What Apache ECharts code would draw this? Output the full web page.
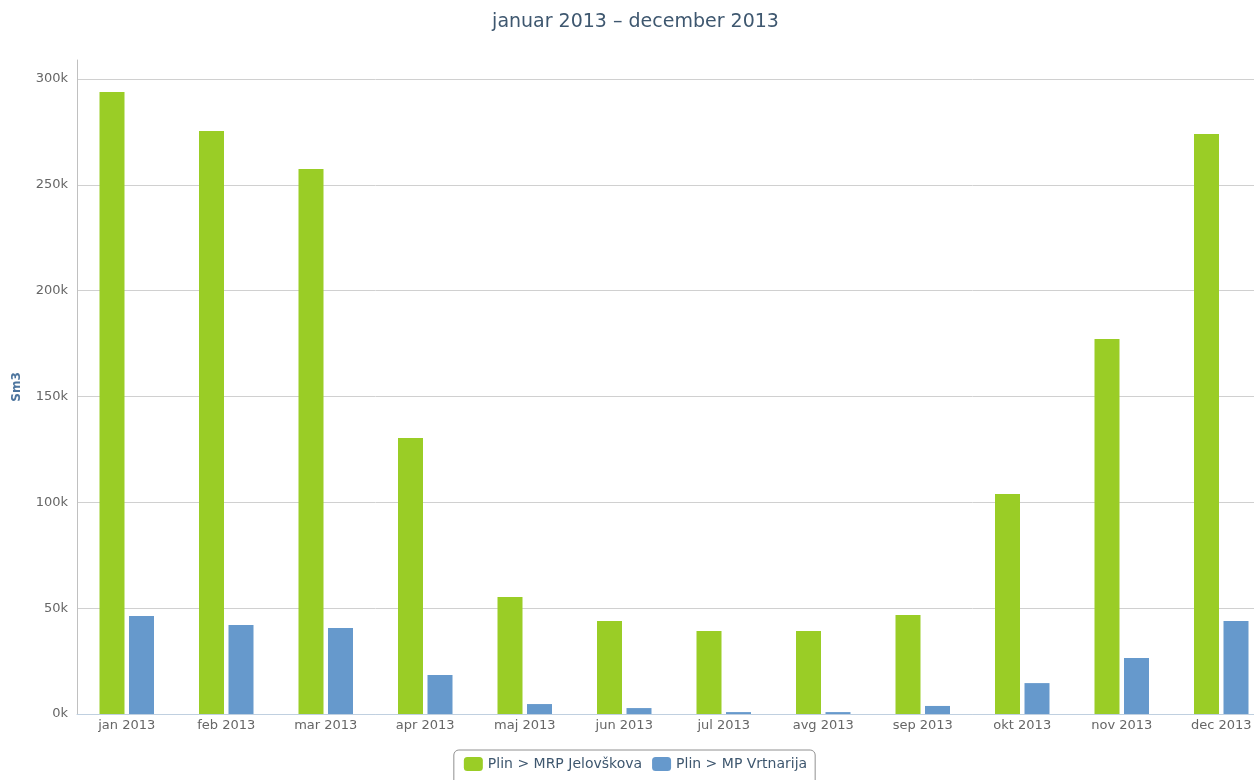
<!DOCTYPE html>
<html>
<head>
<meta charset="utf-8">
<script src="https://cdn.jsdelivr.net/npm/echarts@6/dist/echarts.min.js"></script>
<style>
  html, body { margin: 0; padding: 0; background: #fff; overflow: hidden; }
  /* the original chart was a bit wider than the shot and got cut on the right */
  #chart { width: 1271px; height: 780px; }
</style>
</head>
<body>
<div id="chart"></div>
<script>
const months = ["jan 2013", "feb 2013", "mar 2013", "apr 2013", "maj 2013", "jun 2013",
  "jul 2013", "avg 2013", "sep 2013", "okt 2013", "nov 2013", "dec 2013"];
const jelovskova = [293900, 275400, 257500, 130400, 55300, 43900, 39200, 39200, 46800, 103900, 177200, 274000];
const vrtnarija = [46300, 42000, 40600, 18400, 4700, 2800, 900, 900, 3800, 14600, 26500, 43900];
const seriesNames = ["Plin > MRP Jelovškova", "Plin > MP Vrtnarija"];

const chart = echarts.init(document.getElementById("chart"));

// gridlines for 0..300k, nothing at the (unaligned) top of the axis
const gridColors = ["#d0d0d0", "#d0d0d0", "#d0d0d0", "#d0d0d0", "#d0d0d0", "#d0d0d0", "#d0d0d0", "rgba(0,0,0,0)"];

chart.setOption({
  animation: false,
  textStyle: { fontFamily: "DejaVu Sans" },
  title: {
    text: "januar 2013 – december 2013",
    left: "center",
    top: 8,
    textStyle: { fontSize: 19, fontWeight: "normal", color: "#3e576f" }
  },
  legend: {
    bottom: -5,
    left: "center",
    data: seriesNames,
    itemWidth: 19,
    itemHeight: 14,
    itemGap: 10,
    icon: "roundRect",
    borderColor: "#909090",
    borderWidth: 1,
    borderRadius: 5,
    padding: [7, 8, 14, 10],
    textStyle: { fontSize: 14, color: "#3e576f" }
  },
  grid: { left: 77, top: 60, right: 0, bottom: 66 },
  xAxis: {
    type: "category",
    data: months,
    axisLine: { lineStyle: { color: "#c0d0e0" } },
    axisTick: { alignWithLabel: true, length: 5, lineStyle: { color: "#c0d0e0" } },
    axisLabel: { color: "#666", fontSize: 13, margin: 5 }
  },
  yAxis: {
    type: "value",
    min: 0,
    max: 309000,
    interval: 50000,
    name: "Sm3",
    nameLocation: "middle",
    nameGap: 54,
    nameTextStyle: { color: "#4d759e", fontWeight: "bold", fontSize: 12 },
    axisLine: { show: true, lineStyle: { color: "#c0c0c0" } },
    axisTick: { show: false },
    axisLabel: {
      color: "#666",
      fontSize: 13,
      margin: 9,
      showMaxLabel: false,
      formatter: v => (v % 50000 === 0 ? v / 1000 + "k" : "")
    },
    splitLine: { lineStyle: { color: gridColors } }
  },
  series: [
    {
      name: seriesNames[0],
      type: "bar",
      data: jelovskova,
      barWidth: 25,
      barGap: "18%",
      itemStyle: { color: "#9acd26" }
    },
    {
      name: seriesNames[1],
      type: "bar",
      data: vrtnarija,
      barWidth: 25,
      barGap: "18%",
      itemStyle: { color: "#6699cc" }
    }
  ]
});
</script>
</body>
</html>
